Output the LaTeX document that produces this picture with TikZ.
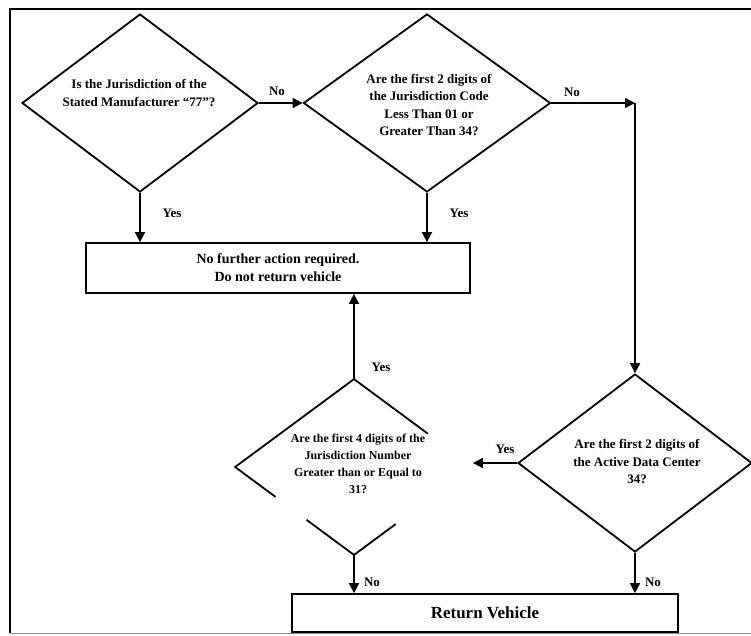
\documentclass[tikz,border=0pt]{standalone}
\usepackage{fontspec}
\setmainfont{Liberation Serif}
\usetikzlibrary{shapes.geometric,arrows.meta,calc}
\begin{document}
\begin{tikzpicture}[x=1pt,y=-1pt,
  dec/.style={diamond, draw, line width=1.8pt, minimum width=236pt, minimum height=178pt, inner sep=0pt},
  txt/.style={font=\bfseries\fontsize{13}{17.5}\selectfont, align=center, inner sep=0pt},
  procbox/.style={draw, line width=1.8pt, rectangle, inner sep=0pt, font=\bfseries\fontsize{14}{18}\selectfont, align=center},
  arr/.style={line width=1.8pt, -{Triangle[length=10pt,width=10pt]}},
  plain/.style={line width=1.8pt},
  lbl/.style={font=\bfseries\fontsize{13}{15}\selectfont, inner sep=0pt}]
\useasboundingbox (0,0) rectangle (751,635);
% frame
\draw[line width=1.4pt] (10,633) -- (10,9) -- (751,9);
\draw[line width=1pt, black!45] (10,633) -- (751,633);

% decisions
\node[dec] (d1) at (140,103) {};
\node[txt] (d1t) at (139,93) {Is the Jurisdiction of the\\Stated Manufacturer ``77''?};
\node[dec, minimum width=247pt] (d2) at (427,103) {};
\node[txt] (d2t) at (429,105) {Are the first 2 digits of\\the Jurisdiction Code\\Less Than 01 or\\Greater Than 34?};
\node[dec, draw=none, minimum height=174pt] (d3) at (354,467) {};
\node[txt, font=\bfseries\fontsize{12}{17}\selectfont] (d3t) at (358,464) {Are the first 4 digits of the\\Jurisdiction Number\\Greater than or Equal to\\31?};
\node[dec, minimum width=234pt] (d4) at (635,463) {};
\node[txt] (d4t) at (637,462) {Are the first 2 digits of\\the Active Data Center\\34?};

% partial outline of d3 (as printed)
\draw[plain] ($(d3.north)!0.62!(d3.east)$) -- (d3.north) -- (d3.west) -- ($(d3.west)!0.34!(d3.south)$);
\draw[plain] ($(d3.south)!0.4!(d3.west)$) -- (d3.south) -- ($(d3.south)!0.35!(d3.east)$);

% boxes
\node[procbox, minimum width=384pt, minimum height=50pt] (b1) at (278,268) {No further action required.\\Do not return vehicle};
\node[procbox, minimum width=386pt, minimum height=38pt, font=\bfseries\fontsize{17}{20}\selectfont] (b2) at (485,613) {Return Vehicle};

\coordinate (c1) at (635,103);

% connectors
\draw[arr] (d1.east) -- (d2.west);
\node[lbl] (l1) at (277,91) {No};
\draw[arr] (d2.east) -- (c1);
\draw[arr] (c1) -- (d4.north);
\node[lbl] (l2) at (572,92) {No};
\draw[arr] (d1.south) -- (d1.south |- b1.north);
\node[lbl] (l3) at (172,213) {Yes};
\draw[arr] (d2.south) -- (d2.south |- b1.north);
\node[lbl] (l4) at (459,213) {Yes};
\draw[arr] (d3.north) -- (d3.north |- b1.south);
\node[lbl] (l5) at (381,367) {Yes};
\draw[arr] (d4.west) -- (d4.west -| d3.east);
\node[lbl] (l6) at (505,449) {Yes};
\draw[arr] (d3.south) -- (d3.south |- b2.north);
\node[lbl] (l7) at (372,582) {No};
\draw[arr] (d4.south) -- (d4.south |- b2.north);
\node[lbl] (l8) at (653,582) {No};
\end{tikzpicture}
\end{document}
